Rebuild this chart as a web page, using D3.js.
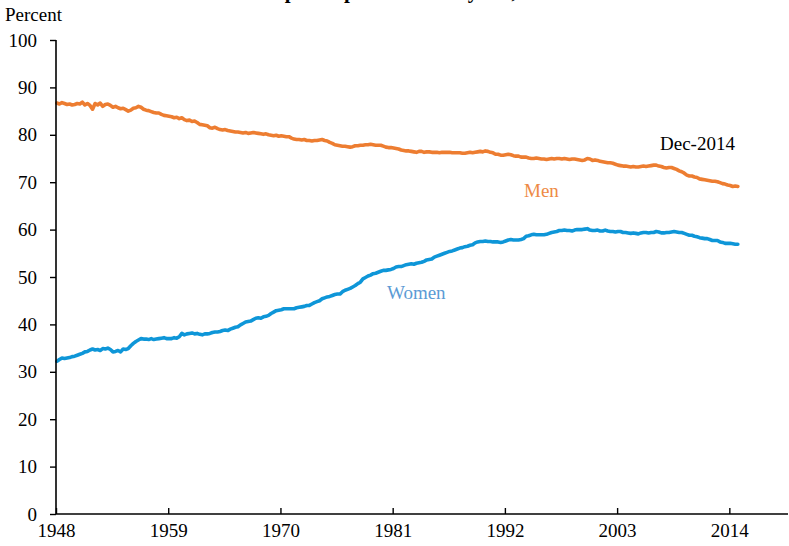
<!DOCTYPE html>
<html>
<head>
<meta charset="utf-8">
<script src="https://cdn.jsdelivr.net/npm/d3@7"></script>
<style>
  html, body { margin: 0; padding: 0; background: #fff; }
  svg { display: block; }
</style>
</head>
<body>
<svg id="chart" width="789" height="546"></svg>
<script>
// First year of the series; values are quarterly (4 per year) through 2014
const startYear = 1948;
const endYear = 2014;

// Men, labor force participation rate (percent), quarterly readings
const menValues = [
  86.7, 86.5, 86.8, 86.6,  86.4, 86.5, 86.3, 86.4,  86.6, 86.5, 86.9, 86.3,  86.6, 86.2, 85.4, 86.6,
  86.3, 86.7, 86.0, 86.4,  86.5, 86.2, 85.8, 86.0,  85.7, 85.5, 85.6, 85.3,  85.0, 85.2, 85.6, 85.7,
  86.0, 85.8, 85.4, 85.2,  85.1, 84.9, 84.7, 84.6,  84.6, 84.3, 84.1, 84.0,  83.9, 83.8, 83.6, 83.7,
  83.4, 83.6, 83.2, 83.0,  83.1, 82.8, 82.9, 82.6,  82.2, 82.1, 82.0, 81.9,  81.5, 81.4, 81.6, 81.3,
  81.1, 81.0, 81.1, 80.9,  80.8, 80.7, 80.6, 80.6,  80.5, 80.4, 80.5, 80.3,  80.4, 80.5, 80.4, 80.3,
  80.2, 80.1, 80.2, 80.0,  79.9, 79.8, 79.9, 79.7,  79.8, 79.7, 79.6, 79.6,  79.3, 79.1, 79.0, 79.0,
  78.9, 79.0, 78.8, 78.8,  78.7, 78.8, 78.8, 78.9,  79.0, 78.8, 78.7, 78.4,  78.2, 77.9, 77.8, 77.7,
  77.6, 77.6, 77.5, 77.4,  77.5, 77.7, 77.7, 77.8,  77.8, 77.9, 77.9, 78.0,  77.9, 77.8, 77.8, 77.8,
  77.6, 77.4, 77.3, 77.3,  77.2, 77.1, 77.0, 76.8,  76.7, 76.6, 76.6, 76.5,  76.4, 76.3, 76.5, 76.5,
  76.3, 76.4, 76.4, 76.3,  76.3, 76.3, 76.2, 76.3,  76.3, 76.3, 76.3, 76.2,  76.2, 76.2, 76.2, 76.1,
  76.1, 76.2, 76.3, 76.2,  76.3, 76.4, 76.5, 76.4,  76.6, 76.5, 76.3, 76.2,  75.9, 75.9, 75.7, 75.7,
  75.8, 75.9, 75.8, 75.6,  75.5, 75.5, 75.3, 75.3,  75.3, 75.1, 75.0, 75.0,  75.1, 75.0, 74.9, 74.9,
  74.8, 74.9, 75.0, 74.9,  75.0, 75.0, 74.9, 75.0,  74.9, 74.8, 74.9, 74.9,  74.8, 74.7, 74.6, 74.7,
  75.0, 74.9, 74.6, 74.7,  74.6, 74.4, 74.3, 74.2,  74.1, 74.1, 74.0, 73.8,  73.6, 73.5, 73.4, 73.4,
  73.3, 73.2, 73.3, 73.2,  73.2, 73.3, 73.4, 73.3,  73.4, 73.5, 73.6, 73.6,  73.4, 73.3, 73.1, 73.0,
  73.1, 73.1, 72.9, 72.7,  72.4, 72.2, 71.9, 71.5,  71.3, 71.3, 71.1, 71.0,  70.7, 70.6, 70.5, 70.4,
  70.3, 70.2, 70.2, 70.1,  69.9, 69.7, 69.6, 69.4,  69.3, 69.1, 69.2, 69.1
];

// Women, labor force participation rate (percent), quarterly readings
const womenValues = [
  32.2, 32.6, 32.9, 32.8,  32.9, 33.0, 33.2, 33.3,  33.5, 33.7, 33.9, 34.2,  34.3, 34.6, 34.8, 34.6,
  34.7, 34.5, 34.9, 34.8,  35.0, 34.7, 34.2, 34.3,  34.5, 34.2, 34.8, 34.7,  34.9, 35.5, 36.0, 36.4,
  36.7, 37.0, 36.9, 36.9,  36.8, 37.0, 36.8, 36.9,  37.0, 37.1, 37.2, 37.0,  37.0, 37.0, 37.2, 37.1,
  37.4, 38.1, 37.8, 38.0,  38.1, 38.2, 38.0, 38.1,  37.9, 37.8, 38.0, 38.0,  38.1, 38.3, 38.4, 38.4,
  38.5, 38.7, 38.8, 38.7,  39.0, 39.2, 39.4, 39.5,  39.9, 40.2, 40.5, 40.6,  40.7, 41.0, 41.3, 41.4,
  41.3, 41.6, 41.7, 41.9,  42.3, 42.6, 42.9, 43.0,  43.1, 43.3, 43.3, 43.3,  43.3, 43.3, 43.5, 43.6,
  43.7, 43.8, 44.0, 44.0,  44.3, 44.6, 44.8, 45.0,  45.4, 45.6, 45.8, 45.9,  46.1, 46.3, 46.4, 46.4,
  46.9, 47.2, 47.4, 47.6,  47.9, 48.2, 48.6, 48.9,  49.6, 49.9, 50.2, 50.4,  50.7, 50.8, 51.0, 51.2,
  51.4, 51.4, 51.5, 51.6,  51.8, 52.1, 52.2, 52.2,  52.4, 52.6, 52.7, 52.8,  52.7, 52.9, 53.0, 53.1,
  53.3, 53.6, 53.7, 53.8,  54.2, 54.4, 54.6, 54.8,  55.0, 55.2, 55.4, 55.5,  55.7, 55.9, 56.1, 56.2,
  56.4, 56.5, 56.7, 56.8,  57.2, 57.4, 57.5, 57.5,  57.6, 57.5, 57.5, 57.4,  57.4, 57.4, 57.3, 57.4,
  57.6, 57.8, 57.9, 57.8,  57.8, 57.8, 57.9, 58.1,  58.6, 58.7, 58.9, 59.0,  58.9, 58.9, 58.9, 58.9,
  59.0, 59.2, 59.4, 59.5,  59.6, 59.8, 59.8, 59.9,  59.8, 59.8, 59.7, 59.9,  60.0, 60.0, 60.0, 60.1,
  60.2, 59.9, 59.8, 59.8,  59.9, 59.7, 59.7, 59.9,  59.7, 59.6, 59.6, 59.5,  59.6, 59.6, 59.4, 59.4,
  59.3, 59.2, 59.3, 59.2,  59.1, 59.3, 59.4, 59.4,  59.3, 59.4, 59.4, 59.6,  59.5, 59.3, 59.3, 59.4,
  59.4, 59.5, 59.6, 59.5,  59.4, 59.4, 59.2, 59.0,  58.8, 58.8, 58.6, 58.5,  58.3, 58.2, 58.1, 58.1,
  57.9, 57.7, 57.7, 57.7,  57.4, 57.3, 57.1, 57.1,  57.1, 57.0, 56.9, 56.9
];

// Axis ticks
const xTickYears = [1948, 1959, 1970, 1981, 1992, 2003, 2014];
const yTickValues = [0, 10, 20, 30, 40, 50, 60, 70, 80, 90, 100];

const COLORS = {
  men: '#ED7D31',
  women: '#0E96D8',
  menLabel: '#EE8A45',
  womenLabel: '#5B9BD5',
  axis: '#000'
};
const FONT = '"Liberation Serif", "Times New Roman", serif';

const svg = d3.select('#chart');

// Plot area: y axis at x=56, x axis at y=514
const x = d3.scaleLinear().domain([1948, 2019.75]).range([56, 788]);
const y = d3.scaleLinear().domain([0, 100]).range([514, 40]);

// quarter index -> decimal year (middle month of each quarter)
function toPoints(values) {
  return values.map((v, i) => ({
    t: startYear + Math.floor(i / 4) + ((i % 4) * 3 + 1) / 12,
    v: v
  }));
}

const line = d3.line()
  .x(d => x(d.t))
  .y(d => y(d.v));

// Title, cut off at the top edge just like the reference (only descenders show)
svg.append('text')
  .attr('x', 395)
  .attr('y', -2)
  .attr('text-anchor', 'middle')
  .style('font-family', FONT)
  .style('font-size', '21px')
  .style('font-weight', 'bold')
  .text('Labor force participation rates by sex, ' + startYear + '–' + endYear);

// Series lines
const series = [
  { name: 'men', values: menValues, color: COLORS.men },
  { name: 'women', values: womenValues, color: COLORS.women }
];

svg.selectAll('path.series')
  .data(series)
  .join('path')
  .attr('class', 'series')
  .attr('fill', 'none')
  .attr('stroke', d => d.color)
  .attr('stroke-width', 3.6)
  .attr('stroke-linejoin', 'round')
  .attr('stroke-linecap', 'round')
  .attr('d', d => line(toPoints(d.values)));

// Y axis
const yAxis = svg.append('g')
  .attr('transform', 'translate(56,0)')
  .call(d3.axisLeft(y).tickValues(yTickValues).tickSize(6).tickPadding(13).tickFormat(d3.format('d')));

// X axis, ticks pointing up into the plot
const xAxis = svg.append('g')
  .attr('transform', 'translate(0,514)')
  .call(d3.axisBottom(x).tickValues(xTickYears).tickSizeInner(-6).tickSizeOuter(0).tickPadding(10).tickFormat(d3.format('d')));

[yAxis, xAxis].forEach(ax => {
  ax.select('.domain').attr('stroke', COLORS.axis).attr('stroke-width', 1.6);
  ax.selectAll('.tick line').attr('stroke', COLORS.axis).attr('stroke-width', 1.4);
  ax.selectAll('.tick text')
    .style('font-family', FONT)
    .style('font-size', '19px')
    .attr('fill', '#000');
});
// keep the axis domains plain lines (no end caps)
xAxis.select('.domain').attr('d', 'M56,0H788');
yAxis.select('.domain').attr('d', 'M0,514V40');

// Text labels
svg.append('text')
  .attr('x', 5)
  .attr('y', 21)
  .style('font-family', FONT)
  .style('font-size', '19px')
  .text('Percent');

svg.append('text')
  .attr('x', 660)
  .attr('y', 150)
  .style('font-family', FONT)
  .style('font-size', '19px')
  .text('Dec-' + endYear);

svg.append('text')
  .attr('x', 524)
  .attr('y', 197)
  .style('font-family', FONT)
  .style('font-size', '19px')
  .style('fill', COLORS.menLabel)
  .text('Men');

svg.append('text')
  .attr('x', 387)
  .attr('y', 299)
  .style('font-family', FONT)
  .style('font-size', '19px')
  .style('fill', COLORS.womenLabel)
  .text('Women');
</script>
</body>
</html>
